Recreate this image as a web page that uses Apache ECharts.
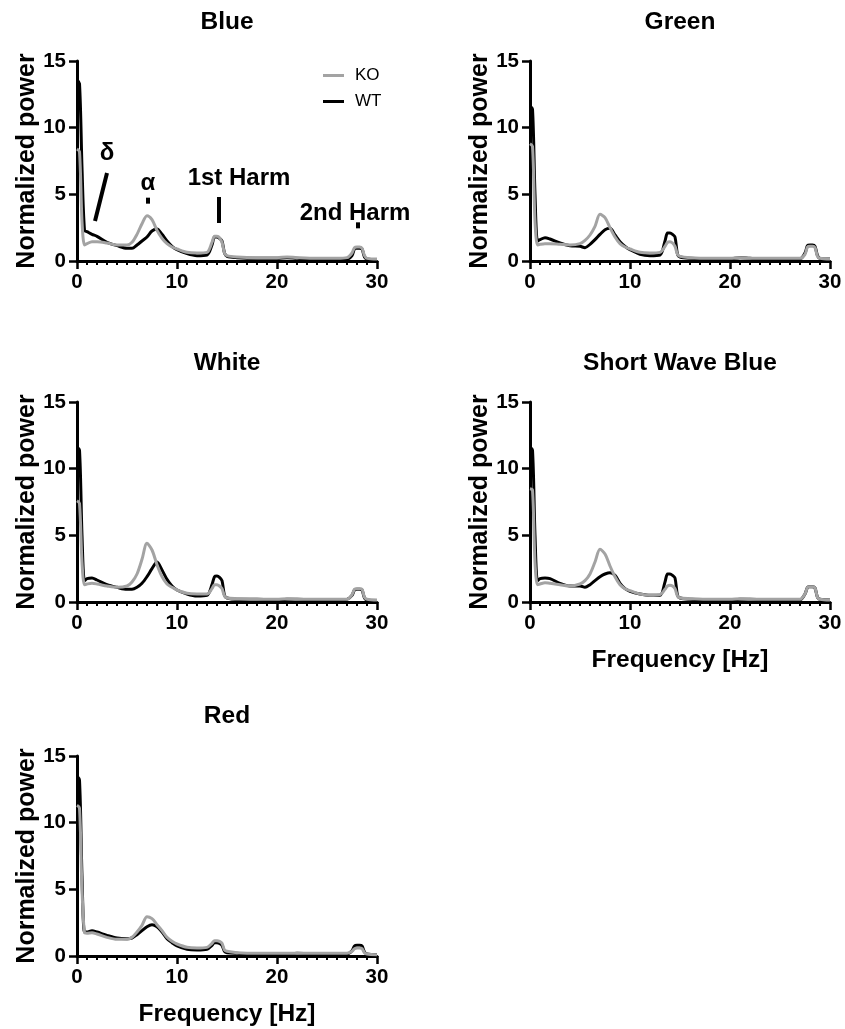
<!DOCTYPE html>
<html>
<head>
<meta charset="utf-8">
<script src="https://cdn.jsdelivr.net/npm/echarts@6/dist/echarts.min.js"></script>
<style>
  html, body { margin: 0; padding: 0; background: #fff; }
  #chart { width: 845px; height: 1029px; }
</style>
</head>
<body>
<div id="chart"></div>
<script>
// frequency grid (Hz) shared by every spectrum
const FREQ = [0, 0.25, 0.5, 0.75, 1, 1.5, 2, 3, 4, 5, 5.5, 6, 6.5, 7, 7.5, 8, 8.5, 9, 9.5, 10,
  11, 12, 13, 13.5, 13.75, 14, 14.25, 14.5, 14.75, 15, 16, 18, 20, 21, 22, 24, 26, 27, 27.5, 27.75,
  28, 28.25, 28.5, 28.75, 29, 30];

const BLUE_WT = [13.6, 13.3, 7, 2.3, 2.2, 2.0, 1.85, 1.4, 1.15, 0.95, 0.95, 1.2, 1.5, 1.8, 2.25, 2.4, 2.0, 1.5, 1.1, 0.85,
  0.55, 0.4, 0.45, 1.2, 1.8, 1.8, 1.7, 1.5, 0.6, 0.35, 0.25, 0.2, 0.2, 0.25, 0.2, 0.15, 0.15, 0.15, 0.4, 0.9,
  0.95, 0.95, 0.9, 0.3, 0.15, 0.1];
const BLUE_KO = [8.4, 8.2, 3.0, 1.2, 1.3, 1.45, 1.45, 1.35, 1.2, 1.2, 1.4, 2.0, 2.8, 3.4, 3.1, 2.3, 1.7, 1.3, 1.05, 0.9,
  0.65, 0.6, 0.65, 1.4, 1.85, 1.85, 1.75, 1.4, 0.6, 0.4, 0.3, 0.25, 0.25, 0.3, 0.25, 0.2, 0.2, 0.25, 0.6, 1.0,
  1.05, 1.05, 0.95, 0.4, 0.2, 0.15];

const GREEN_WT = [11.6, 11.4, 5, 1.5, 1.6, 1.75, 1.65, 1.35, 1.15, 1.1, 1.0, 1.25, 1.6, 2.0, 2.35, 2.45, 1.95, 1.45, 1.1, 0.85,
  0.5, 0.4, 0.45, 1.5, 2.1, 2.1, 2.0, 1.8, 0.5, 0.3, 0.2, 0.15, 0.15, 0.25, 0.2, 0.15, 0.15, 0.15, 0.6, 1.15,
  1.2, 1.2, 1.1, 0.4, 0.2, 0.15];
const GREEN_KO = [8.8, 8.6, 3, 1.2, 1.25, 1.3, 1.3, 1.25, 1.2, 1.3, 1.55, 1.95, 2.6, 3.5, 3.25, 2.5, 1.8, 1.3, 1.05, 0.9,
  0.65, 0.6, 0.65, 1.1, 1.4, 1.45, 1.35, 1.1, 0.5, 0.35, 0.25, 0.2, 0.2, 0.25, 0.2, 0.2, 0.2, 0.2, 0.5, 1.05,
  1.1, 1.1, 1.0, 0.35, 0.2, 0.15];

const WHITE_WT = [11.6, 11.4, 5, 1.6, 1.75, 1.8, 1.65, 1.3, 1.1, 0.95, 0.95, 1.1, 1.4, 1.9, 2.5, 3.0, 2.4, 1.7, 1.2, 0.9,
  0.6, 0.45, 0.5, 1.3, 1.9, 1.95, 1.85, 1.6, 0.5, 0.3, 0.2, 0.2, 0.15, 0.2, 0.2, 0.15, 0.15, 0.2, 0.5, 0.9,
  0.95, 0.95, 0.9, 0.3, 0.15, 0.1];
const WHITE_KO = [7.6, 7.4, 3, 1.3, 1.35, 1.4, 1.35, 1.2, 1.1, 1.2, 1.5, 2.1, 3.2, 4.4, 3.9, 2.8, 1.9, 1.35, 1.1, 0.9,
  0.65, 0.6, 0.6, 1.0, 1.3, 1.3, 1.2, 1.0, 0.45, 0.3, 0.25, 0.2, 0.2, 0.25, 0.2, 0.2, 0.2, 0.2, 0.55, 0.95,
  1.0, 1.0, 0.95, 0.35, 0.2, 0.15];

const SWB_WT = [11.6, 11.4, 5, 1.6, 1.75, 1.8, 1.75, 1.4, 1.2, 1.2, 1.1, 1.3, 1.6, 1.9, 2.1, 2.2, 2.0, 1.4, 1.0, 0.8,
  0.6, 0.5, 0.5, 1.5, 2.1, 2.1, 2.0, 1.8, 0.5, 0.3, 0.2, 0.15, 0.15, 0.2, 0.2, 0.15, 0.15, 0.15, 0.6, 1.1,
  1.15, 1.15, 1.05, 0.35, 0.2, 0.15];
const SWB_KO = [8.5, 8.4, 3, 1.3, 1.35, 1.45, 1.4, 1.3, 1.2, 1.35, 1.6, 2.1, 3.0, 3.95, 3.6, 2.7, 1.9, 1.3, 1.0, 0.85,
  0.6, 0.5, 0.55, 0.95, 1.2, 1.25, 1.2, 1.0, 0.45, 0.3, 0.25, 0.2, 0.2, 0.25, 0.2, 0.2, 0.2, 0.2, 0.6, 1.1,
  1.15, 1.15, 1.05, 0.35, 0.2, 0.15];

const RED_WT = [13.5, 13.2, 6, 1.8, 1.8, 1.9, 1.8, 1.55, 1.35, 1.3, 1.35, 1.6, 1.9, 2.2, 2.35, 2.2, 1.8, 1.3, 1.0, 0.75,
  0.5, 0.45, 0.5, 0.8, 1.0, 1.0, 0.95, 0.8, 0.35, 0.25, 0.2, 0.15, 0.15, 0.15, 0.2, 0.15, 0.15, 0.15, 0.4, 0.75,
  0.8, 0.8, 0.75, 0.3, 0.15, 0.1];
const RED_KO = [11.3, 11.1, 5, 1.75, 1.7, 1.75, 1.65, 1.4, 1.25, 1.25, 1.4, 1.8, 2.3, 2.95, 2.8, 2.35, 1.9, 1.4, 1.1, 0.9,
  0.65, 0.6, 0.65, 0.95, 1.15, 1.15, 1.1, 0.95, 0.45, 0.35, 0.25, 0.2, 0.2, 0.2, 0.2, 0.2, 0.2, 0.2, 0.35, 0.55,
  0.6, 0.6, 0.55, 0.25, 0.15, 0.1];

// band labels in the Blue panel (data coords)
const BAND_TEXT = [
  { label: 'δ', at: [3.0, 8.1] },
  { label: 'α', at: [7.1, 5.85] },
  { label: '1st Harm', at: [16.2, 6.2] },
  { label: '2nd Harm', at: [27.8, 3.6] },
];
const BAND_MARKS = [
  [[3.0, 6.6], [1.8, 3.0]],
  [[7.1, 4.75], [7.1, 4.3]],
  [[14.2, 4.8], [14.2, 2.85]],
  [[28.1, 2.9], [28.1, 2.45]],
];

const FONT = '"Liberation Sans", Arial, Helvetica, sans-serif';
const KO_COLOR = '#a3a3a3';
const WT_COLOR = '#000000';

const panels = [
  { title: 'Blue', left: 77, top: 61, wt: BLUE_WT, ko: BLUE_KO, xName: false, titleTop: 10 },
  { title: 'Green', left: 530, top: 61, wt: GREEN_WT, ko: GREEN_KO, xName: false, titleTop: 10 },
  { title: 'White', left: 77, top: 402, wt: WHITE_WT, ko: WHITE_KO, xName: false, titleTop: 351 },
  { title: 'Short Wave Blue', left: 530, top: 402, wt: SWB_WT, ko: SWB_KO, xName: true, titleTop: 351 },
  { title: 'Red', left: 77, top: 756, wt: RED_WT, ko: RED_KO, xName: true, titleTop: 704 },
];
const W = 300, H = 200;

const boldText = (size) => ({ color: '#000', fontSize: size, fontWeight: 'bold', fontFamily: FONT });
const pairs = (vals) => FREQ.map((f, i) => [f, vals[i]]);

const grids = [], xAxes = [], yAxes = [], titles = [], series = [];
panels.forEach((p, i) => {
  grids.push({ left: p.left, top: p.top, width: W, height: H });
  titles.push({
    text: p.title, left: p.left + W / 2, top: p.titleTop, textAlign: 'center', padding: 0,
    textStyle: boldText(24.5),
  });
  xAxes.push({
    type: 'value', gridIndex: i, min: 0, max: 30, interval: 10,
    axisLine: { show: true, onZero: false, lineStyle: { color: '#000', width: 3 } },
    axisTick: { show: true, length: 8, lineStyle: { color: '#000', width: 2.5 } },
    minorTick: { show: true, splitNumber: 10, length: 4, lineStyle: { color: '#000', width: 2 } },
    splitLine: { show: false },
    axisLabel: { ...boldText(20.5), margin: 11 },
    name: p.xName ? 'Frequency [Hz]' : '',
    nameLocation: 'middle', nameGap: 46,
    nameTextStyle: boldText(24.5),
  });
  yAxes.push({
    type: 'value', gridIndex: i, min: 0, max: 15, interval: 5,
    axisLine: { show: true, lineStyle: { color: '#000', width: 3 } },
    axisTick: { show: true, length: 8, lineStyle: { color: '#000', width: 2.5 } },
    splitLine: { show: false },
    axisLabel: { ...boldText(20.5), margin: 11 },
    name: 'Normalized power', nameLocation: 'middle', nameGap: 37,
    nameTextStyle: boldText(25),
  });
  const wt = {
    name: 'WT', type: 'line', xAxisIndex: i, yAxisIndex: i, data: pairs(p.wt),
    symbol: 'none', smooth: 0.3, color: WT_COLOR,
    lineStyle: { color: WT_COLOR, width: 3 }, z: 2,
  };
  const ko = {
    name: 'KO', type: 'line', xAxisIndex: i, yAxisIndex: i, data: pairs(p.ko),
    symbol: 'none', smooth: 0.3, color: KO_COLOR,
    lineStyle: { color: KO_COLOR, width: 3 }, z: 3,
  };
  if (i === 0) {
    wt.markLine = {
      silent: true, symbol: 'none', animation: false,
      lineStyle: { color: '#000', width: 4, type: 'solid' },
      label: { show: false },
      data: BAND_MARKS.map(([a, b]) => [{ coord: a }, { coord: b }]),
    };
    wt.markPoint = {
      silent: true, symbol: 'circle', symbolSize: 0, animation: false,
      label: { show: true, position: 'inside', formatter: (d) => d.name, ...boldText(24) },
      data: BAND_TEXT.map((b) => ({ name: b.label, coord: b.at })),
    };
  }
  series.push(wt, ko);
});

const chart = echarts.init(document.getElementById('chart'), null, { renderer: 'canvas' });
chart.setOption({
  animation: false,
  backgroundColor: '#fff',
  title: titles,
  grid: grids,
  xAxis: xAxes,
  yAxis: yAxes,
  legend: {
    data: ['KO', 'WT'], orient: 'vertical', left: 323, top: 67, padding: 0,
    icon: 'rect', itemWidth: 21, itemHeight: 3, itemGap: 9,
    textStyle: { color: '#000', fontSize: 17, fontFamily: FONT, padding: [0, 0, 0, 6] },
  },
  series,
});
</script>
</body>
</html>
